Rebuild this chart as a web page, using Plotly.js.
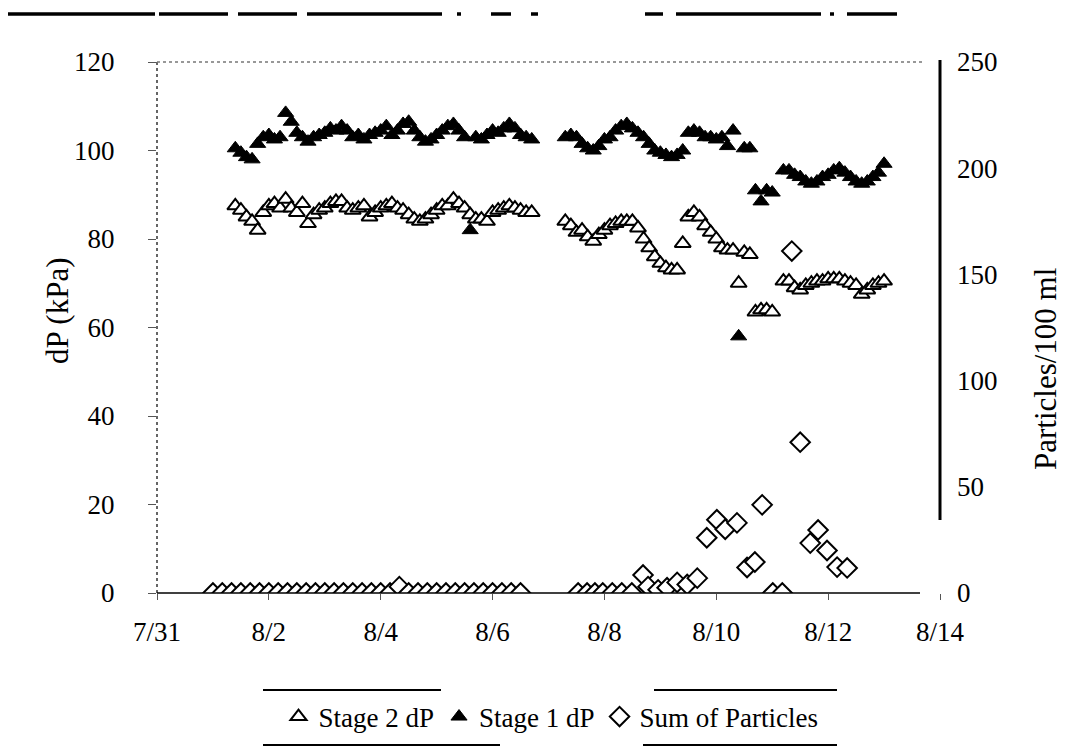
<!DOCTYPE html>
<html><head><meta charset="utf-8">
<script src="https://cdn.plot.ly/plotly-3.0.1.min.js"></script>
<style>html,body{margin:0;padding:0;background:#fff}#chart{width:1081px;height:753px}</style>
</head><body><div id="chart"></div>
<script>
// ---- data (x values are days after 7/31) ----
const tickDays = [0, 2, 4, 6, 8, 10, 12, 14];
const tickLabels = ['7/31', '8/2', '8/4', '8/6', '8/8', '8/10', '8/12', '8/14'];
const dpTicks = [0, 20, 40, 60, 80, 100, 120];
const particleTicks = [0, 50, 100, 150, 200, 250];

const stageDay = [
  1.4,1.5,1.6,1.7,1.8,1.9,2.0,2.1,2.2,2.3,2.4,2.5,2.6,2.7,2.8,2.9,3.0,3.1,3.2,3.3,
  3.4,3.5,3.6,3.7,3.8,3.9,4.0,4.1,4.2,4.3,4.4,4.5,4.6,4.7,4.8,4.9,5.0,5.1,5.2,5.3,
  5.4,5.5,5.6,5.7,5.8,5.9,6.0,6.1,6.2,6.3,6.4,6.5,6.6,6.7,
  7.3,7.4,7.5,7.6,7.7,7.8,7.9,8.0,8.1,8.2,8.3,8.4,8.5,8.6,8.7,8.8,8.9,9.0,9.1,9.2,
  9.3,9.4,9.5,9.6,9.7,9.8,9.9,10.0,10.1,10.2,10.3,10.4,10.5,10.6,10.7,10.8,10.9,11.0,11.1,11.2,
  11.3,11.4,11.5,11.6,11.7,11.8,11.9,12.0,12.1,12.2,12.3,12.4,12.5,12.6,12.7,12.8,12.9,13.0
];
const stage2dP = [
  87.5,86.5,85,84,82,86,87.5,88,87,89, 87,86,88,83.5,85.5,86.5,87,88,88.5,88.5,
  87,86.5,87,87.5,85,86,87,87.5,88,87, 86.5,85.5,84.5,84,84.5,85.5,86.5,87.5,87.5,89,
  88,87,85.5,84.5,84.5,84,86,86.5,87,87.5, 87,86.5,86,86,
  84,83,81.5,82,80.5,79.5,81,82,83,83.5, 84,84,84,82.5,80,78,76,74.5,73.5,73,
  73,79,85,86,85,83,81.5,80,78,77.5, 77.5,70,77,76.5,63.5,64,64,63.5,null,70.5,
  70.5,69,68.5,69.5,70,70.5,70.5,71,71,71, 70.5,70,69.5,67.5,68.5,69.5,70,70.5
];
const stage1dP = [
  100.5,99.5,98.5,98,101.5,103,103.5,102.5,103,108.5, 106.5,104,103,102,103,103.5,104,105,104.5,105.5,
  104.5,103,103.5,102.5,103.5,104,104.5,105.5,103.5,104.5, 106,106.5,104.5,103,102,102.5,103.5,104.5,105.5,106,
  104.5,103,82,103,102.5,103.5,104.5,104,105,106, 105,103.5,103,102.5,
  103,103.5,103,101.5,100.5,100,101,102.5,103,104.5, 105.5,106,105,104,103,101.5,100,99.5,99,98.5,
  99,100,104,104.5,104,103,103,102.5,103,101, 104.5,58,100.5,100.5,91,88.5,91,90.5,null,95.5,
  95.5,94.5,94,93,92.5,93,94,94.5,95.5,96, 95,94,93,92.5,93,94,95,97
];
const particleDay = [
  1,1.167,1.333,1.5,1.667,1.833,2,2.167,2.333,2.5,2.667,2.833,3,3.167,3.333,3.5,3.667,3.833,4,4.167,4.333,
  4.5,4.667,4.833,5,5.167,5.333,5.5,5.667,5.833,6,6.167,6.333,6.5,
  7.53,7.69,7.83,7.97,8.14,8.31,8.49,8.69,8.78,8.96,9.12,9.3,9.48,9.66,9.83,10.01,10.16,10.37,10.55,10.69,
  10.82,11.01,11.18,11.35,11.5,11.68,11.82,11.98,12.16,12.34
];
const sumParticles = [
  0,0,0,0,0,0,0,0,0,0,0,0,0,0,0,0,0,0,0,0,3,
  0,0,0,0,0,0,0,0,0,0,0,0,0,
  0,0,0,0,0,0,0,8.5,3,1.5,2.5,5,4,7,26,34.5,30,33,12,14.6,
  41.5,0,0,161,71,23.5,29.7,20,12.2,11.8
];

// ---- helpers ----
const BASE = Date.UTC(2005, 6, 31);
function dayToDate(d) {
  return new Date(BASE + Math.round(d * 86400000)).toISOString().slice(0, 19).replace('T', ' ');
}
const FONT = 'Liberation Serif, Times New Roman, serif';
const PL = 157, PR = 940, PT = 62, PB = 593;
const px = x => (x - PL) / (PR - PL);
const py = y => (PB - y) / (PB - PT);

const traces = [
  { name: 'Stage 2 dP', type: 'scatter', mode: 'markers', xaxis: 'x', yaxis: 'y',
    x: stageDay.map(dayToDate), y: stage2dP,
    marker: { symbol: 'triangle-up', size: 14, color: 'white', line: { color: 'black', width: 2 } } },
  { name: 'Stage 1 dP', type: 'scatter', mode: 'markers', xaxis: 'x', yaxis: 'y',
    x: stageDay.map(dayToDate), y: stage1dP,
    marker: { symbol: 'triangle-up', size: 14, color: 'black', line: { color: 'black', width: 1 } } },
  { name: 'Sum of Particles', type: 'scatter', mode: 'markers', xaxis: 'x', yaxis: 'y2',
    x: particleDay.map(dayToDate), y: sumParticles,
    marker: { symbol: 'diamond', size: 15, color: 'white', line: { color: 'black', width: 2 } } }
];

// decorative scan lines of the original figure
const topSegs = [[8,155],[159,228],[238,297],[307,442],[457,461],[491,511],[531,538],[645,663],[676,821],[830,834],[847,897]];
const legendLines = [[263,441,690],[654,837,690],[263,500,745],[643,837,745]];

const shapes = [];
topSegs.forEach(s => shapes.push({ type: 'line', xref: 'paper', yref: 'paper',
  x0: px(s[0]), x1: px(s[1]), y0: py(14), y1: py(14), line: { color: 'black', width: 3.5 } }));
legendLines.forEach(s => shapes.push({ type: 'line', xref: 'paper', yref: 'paper',
  x0: px(s[0]), x1: px(s[1]), y0: py(s[2]), y1: py(s[2]), line: { color: 'black', width: 2 } }));
shapes.push({ type: 'line', xref: 'paper', yref: 'paper', x0: 0, x1: 0, y0: 0, y1: 1,
  line: { color: '#333', width: 1.5, dash: 'dot' } });
shapes.push({ type: 'line', xref: 'paper', yref: 'paper', x0: 0, x1: px(925), y0: 1, y1: 1,
  line: { color: '#777', width: 1.5, dash: 'dot' } });
shapes.push({ type: 'line', xref: 'paper', yref: 'paper', x0: 0, x1: px(920), y0: 0, y1: 0,
  line: { color: 'black', width: 1.5 } });
shapes.push({ type: 'line', xref: 'paper', yref: 'paper', x0: 1, x1: 1, y0: py(520), y1: py(60),
  line: { color: 'black', width: 3 } });

const layout = {
  width: 1081, height: 753,
  margin: { l: PL, r: 1081 - PR, t: PT, b: 753 - PB },
  paper_bgcolor: 'white', plot_bgcolor: 'white',
  font: { family: FONT, color: 'black', size: 27 },
  showlegend: true,
  legend: { orientation: 'h', x: px(551), xanchor: 'center', y: py(717), yanchor: 'middle',
    font: { family: FONT, size: 27, color: 'black' }, bgcolor: 'rgba(0,0,0,0)' },
  xaxis: {
    type: 'date', range: [dayToDate(0), dayToDate(14)],
    tickmode: 'array', tickvals: tickDays.map(dayToDate), ticktext: tickLabels,
    ticks: 'outside', ticklen: 6, tickcolor: '#555', tickwidth: 1,
    showline: false, showgrid: false, zeroline: false,
    tickfont: { family: FONT, size: 27, color: 'black' }, ticklabelstandoff: 9
  },
  yaxis: {
    range: [0, 120], tickmode: 'array', tickvals: dpTicks,
    ticks: 'outside', ticklen: 8, tickcolor: '#555', tickwidth: 1,
    showline: false, showgrid: false, zeroline: false,
    tickfont: { family: FONT, size: 27, color: 'black' }, ticklabelstandoff: 28
  },
  yaxis2: {
    overlaying: 'y', side: 'right', range: [0, 250], tickmode: 'array', tickvals: particleTicks,
    ticks: '', showline: false, showgrid: false, zeroline: false,
    tickfont: { family: FONT, size: 27, color: 'black' }, ticklabelstandoff: 16
  },
  annotations: [
    { text: 'dP (kPa)', textangle: -90, xref: 'paper', yref: 'paper', x: px(57), y: py(311),
      xanchor: 'center', yanchor: 'middle', showarrow: false,
      font: { family: FONT, size: 31, color: 'black' } },
    { text: 'Particles/100 ml', textangle: -90, xref: 'paper', yref: 'paper', x: px(1045), y: py(369),
      xanchor: 'center', yanchor: 'middle', showarrow: false,
      font: { family: FONT, size: 31, color: 'black' } }
  ],
  shapes: shapes
};

Plotly.newPlot('chart', traces, layout, { displayModeBar: false, staticPlot: true });
</script>
</body></html>
